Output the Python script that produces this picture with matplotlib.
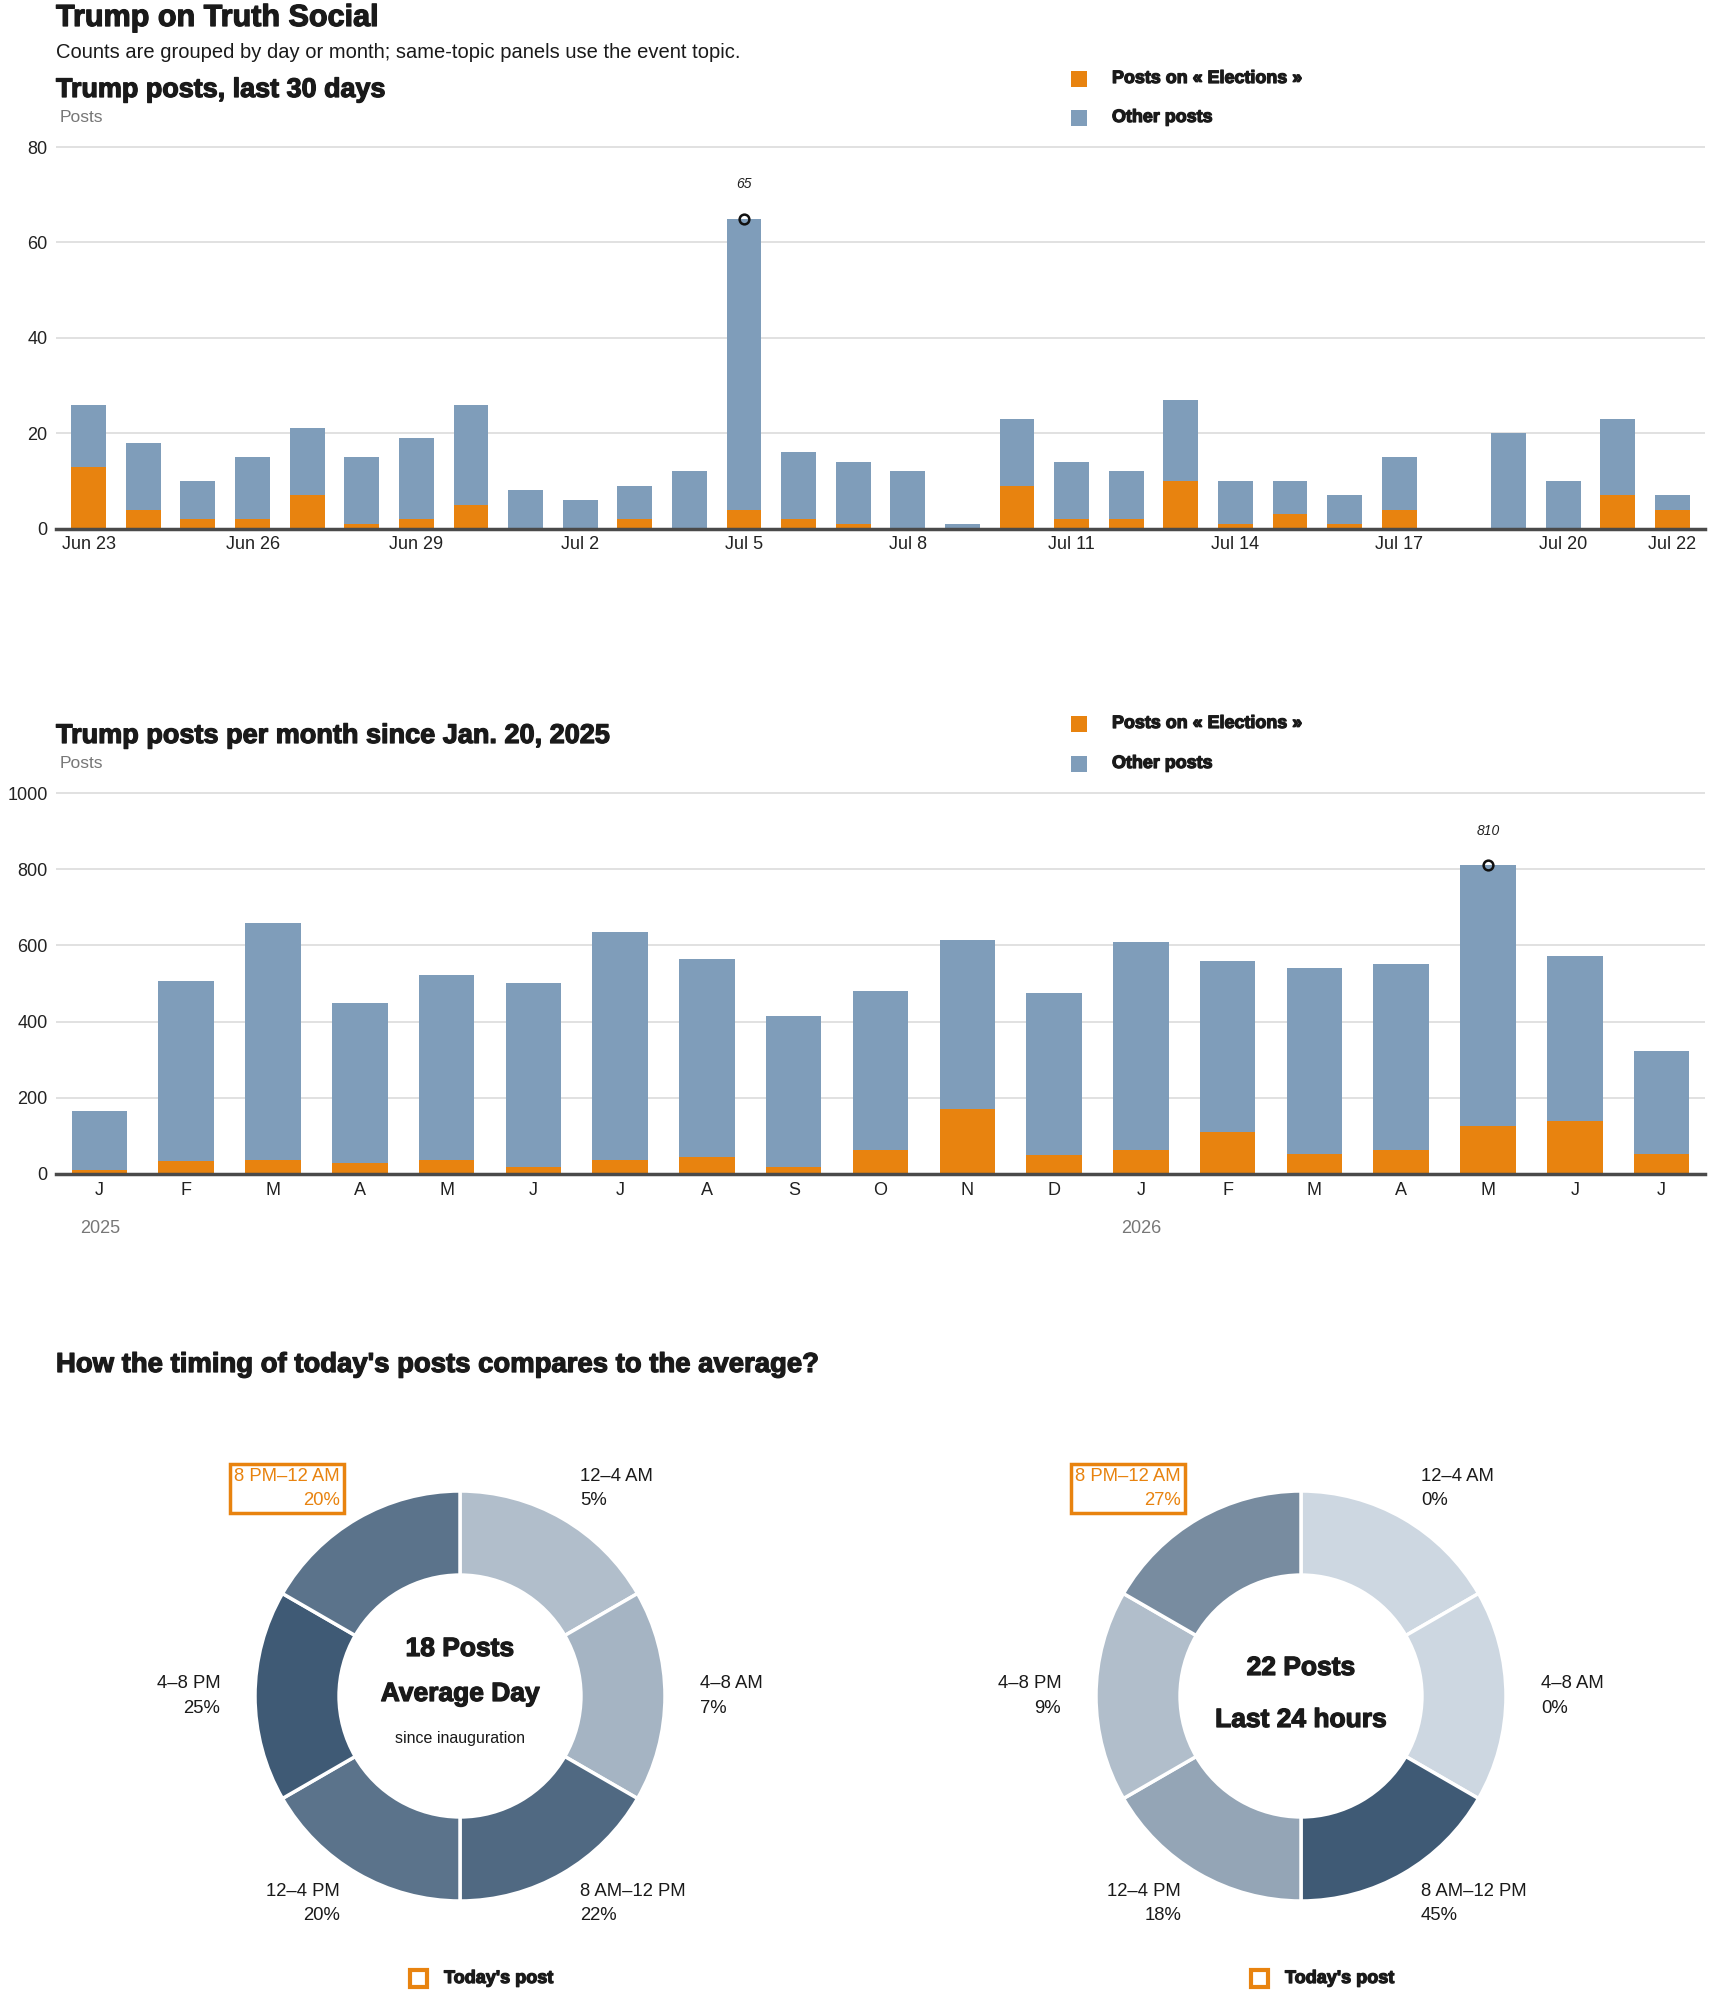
import matplotlib
matplotlib.use('Agg')
import matplotlib.pyplot as plt
import matplotlib.patheffects as pe
from matplotlib.patches import Rectangle
from matplotlib.colors import LinearSegmentedColormap
import numpy as np

plt.rcParams['font.family'] = ['Liberation Sans', 'DejaVu Sans']

# last 30 days
days = ['Jun 23', 'Jun 24', 'Jun 25', 'Jun 26', 'Jun 27', 'Jun 28', 'Jun 29', 'Jun 30',
        'Jul 1', 'Jul 2', 'Jul 3', 'Jul 4', 'Jul 5', 'Jul 6', 'Jul 7', 'Jul 8', 'Jul 9',
        'Jul 10', 'Jul 11', 'Jul 12', 'Jul 13', 'Jul 14', 'Jul 15', 'Jul 16', 'Jul 17',
        'Jul 18', 'Jul 19', 'Jul 20', 'Jul 21', 'Jul 22']
day_total = [26, 18, 10, 15, 21, 15, 19, 26, 8, 6, 9, 12, 65, 16, 14, 12, 1,
             23, 14, 12, 27, 10, 10, 7, 15, 0, 20, 10, 23, 7]
day_elections = [13, 4, 2, 2, 7, 1, 2, 5, 0, 0, 2, 0, 4, 2, 1, 0, 0,
                 9, 2, 2, 10, 1, 3, 1, 4, 0, 0, 0, 7, 4]
day_ticks = ['Jun 23', 'Jun 26', 'Jun 29', 'Jul 2', 'Jul 5', 'Jul 8', 'Jul 11',
             'Jul 14', 'Jul 17', 'Jul 20', 'Jul 22']

# per month since inauguration
months = ['J', 'F', 'M', 'A', 'M', 'J', 'J', 'A', 'S', 'O', 'N', 'D',
          'J', 'F', 'M', 'A', 'M', 'J', 'J']
month_total = [165, 507, 658, 449, 523, 502, 634, 565, 414, 480, 615, 475,
               610, 559, 541, 552, 810, 571, 322]
month_elections = [10, 33, 37, 29, 37, 18, 37, 45, 18, 63, 170, 51,
                   63, 109, 53, 63, 126, 140, 53]

# time of day
slots = ['12–4 AM', '4–8 AM', '8 AM–12 PM', '12–4 PM', '4–8 PM', '8 PM–12 AM']
avg_share = [5, 7, 22, 20, 25, 20]
today_share = [0, 0, 45, 18, 9, 27]
today_slot = '8 PM–12 AM'

ORANGE = '#e8830f'
BLUE = '#7f9dba'
INK = '#1a1a1a'
GREY = '#777777'
slate = LinearSegmentedColormap.from_list('slate', ['#cdd7e1', '#3f5a75'])
heavy = [pe.withStroke(linewidth=0.9, foreground=INK)]

W, H = 1710, 1993
fig = plt.figure(figsize=(W / 100, H / 100), dpi=100)


def fx(x):
    return x / W


def fy(y):
    return 1 - y / H


def text(x, y, s, **kw):
    kw.setdefault('color', INK)
    kw.setdefault('va', 'baseline')
    fig.text(fx(x), fy(y), s, **kw)


def title(x, y, s, size, **kw):
    # bold plus a thin stroke, to get closer to the heavy headline face
    text(x, y, s, fontsize=size, fontweight='bold', path_effects=heavy, **kw)


def square(x, y, size, color, fill=True):
    fig.patches.append(Rectangle((fx(x), fy(y + size)), size / W, size / H,
                                 transform=fig.transFigure, fill=fill,
                                 facecolor=color if fill else 'none',
                                 edgecolor=color, lw=0 if fill else 3))


def bar_panel(top, base, px_per_unit, labels, total, elections, step, ticks):
    # base = pixel row of y=0
    ax = fig.add_axes([fx(56), fy(base), (1705 - 56) / W, (base - top) / H])
    x = np.arange(len(total))
    other = np.array(total) - np.array(elections)
    ax.bar(x, elections, width=0.64, color=ORANGE, zorder=3)
    ax.bar(x, other, bottom=elections, width=0.64, color=BLUE, zorder=3)
    pad = 0.6 if len(total) > 20 else 0.5
    ax.set_xlim(-pad, len(total) - 1 + pad)
    ax.set_ylim(0, (base - top) / px_per_unit)
    ax.set_yticks(np.arange(0, ax.get_ylim()[1], step))
    ax.yaxis.grid(True, color='#dcdcdc', lw=1.2)
    ax.set_axisbelow(True)
    for s in ['top', 'right', 'left']:
        ax.spines[s].set_visible(False)
    ax.spines['bottom'].set_color('#4a4a4a')
    ax.spines['bottom'].set_linewidth(2.5)
    ax.spines['bottom'].set_zorder(4)
    ax.tick_params(axis='both', length=0, labelsize=13, colors='#222222')
    ax.tick_params(axis='y', pad=6)
    ax.tick_params(axis='x', pad=5.5)
    ax.set_xticks([labels.index(t) for t in ticks] if ticks else x,
                  ticks if ticks else labels)
    # mark the peak
    i = int(np.argmax(total))
    ax.plot(i, total[i], 'o', mfc='none', mec='#111111', mew=1.8, ms=7,
            zorder=5, clip_on=False)
    ax.annotate(str(total[i]), (i, total[i]), xytext=(0, 25),
                textcoords='offset points', ha='center', va='center',
                fontstyle='italic', fontsize=10, color='#222222')
    return ax


def legend(y1, y2):
    square(1071, y1 - 12, 16, ORANGE)
    square(1071, y2 - 12, 16, BLUE)
    title(1112, y1, 'Posts on « Elections »', 12.9)
    title(1112, y2, 'Other posts', 12.9)


# header + daily panel
title(56, 26, 'Trump on Truth Social', 22)
text(56, 58, 'Counts are grouped by day or month; same-topic panels use the event topic.',
     fontsize=14.5)
title(56, 97, 'Trump posts, last 30 days', 19.4)
text(60, 122, 'Posts', fontsize=12.5, color=GREY)
legend(83, 122)
bar_panel(130, 528.6, 4.77, days, day_total, day_elections, 20, day_ticks)

# monthly panel
title(56, 743, 'Trump posts per month since Jan. 20, 2025', 19.5)
text(60, 768, 'Posts', fontsize=12.5, color=GREY)
legend(728, 768)
bar_panel(780, 1174, 0.381, months, month_total, month_elections, 200, None)
text(100, 1233, '2025', fontsize=13, color=GREY, ha='center')
text(1141, 1233, '2026', fontsize=13, color=GREY, ha='center')

# donuts
title(56, 1372, "How the timing of today's posts compares to the average?", 19.8)


def donut(cx, cy, share, lines):
    R = 205
    ax = fig.add_axes([fx(cx - 300), fy(cy + 300), 600 / W, 600 / H])
    vals = np.array(share, dtype=float)
    colors = [slate(v / vals.max()) for v in vals]
    ax.pie([1] * len(share), radius=1, startangle=90, counterclock=False,
           colors=colors, wedgeprops=dict(width=0.41, edgecolor='white', linewidth=2.5))
    lim = 300 / R
    ax.set_xlim(-lim, lim)
    ax.set_ylim(-lim, lim)
    ax.set_aspect('equal')
    ax.axis('off')
    for k, (slot, v) in enumerate(zip(slots, share)):
        ang = np.deg2rad(60 - 60 * k)
        x, y = 1.17 * np.cos(ang), 1.17 * np.sin(ang)
        ha = 'left' if x > 0.01 else 'right'
        kw = dict(ha=ha, va='center', fontsize=13.3, linespacing=1.55,
                  multialignment=ha, color=INK)
        if slot == today_slot:
            kw['color'] = ORANGE
            kw['bbox'] = dict(boxstyle='square,pad=0.22', fc='white', ec=ORANGE, lw=2.5)
        ax.text(x, y, f'{slot}\n{v}%', **kw)
    for y, s, size, weight in lines:
        if weight == 'bold':
            title(cx, y, s, size, ha='center')
        else:
            text(cx, y, s, fontsize=size, ha='center')
    square(cx - 50, 1970, 17, ORANGE, fill=False)
    title(cx - 16, 1983, "Today's post", 13)


donut(460, 1696, avg_share, [(1656, '18 Posts', 19, 'bold'),
                             (1701, 'Average Day', 19, 'bold'),
                             (1743, 'since inauguration', 11.5, 'normal')])
donut(1301, 1696, today_share, [(1675, '22 Posts', 19, 'bold'),
                                (1727, 'Last 24 hours', 19, 'bold')])

fig.savefig('out.png', dpi=100)
